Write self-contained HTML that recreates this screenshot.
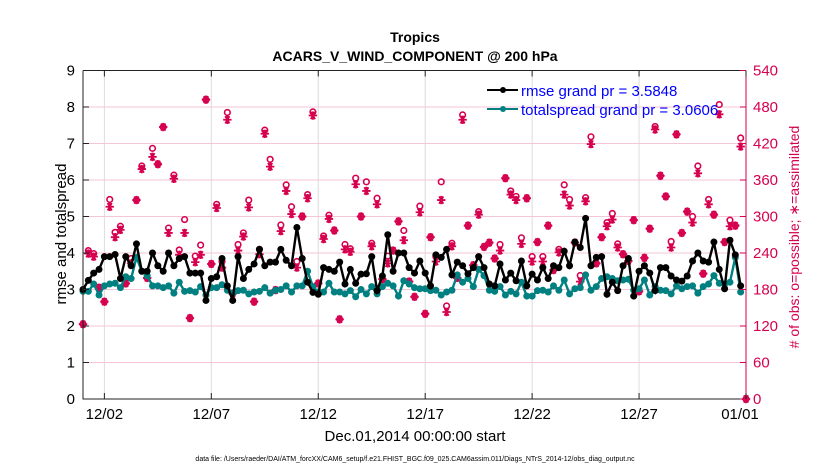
<!DOCTYPE html>
<html><head><meta charset="utf-8"><style>
body{margin:0;background:#fff;}
svg text{font-family:"Liberation Sans",Arial,sans-serif;}
</style></head><body>
<svg id="chart" width="830" height="470" xmlns="http://www.w3.org/2000/svg">
<text x="415" y="42" text-anchor="middle" font-size="14" font-weight="bold">Tropics</text>
<text x="415" y="61" text-anchor="middle" font-size="14" font-weight="bold">ACARS_V_WIND_COMPONENT @ 200 hPa</text>
<g id="grid"></g><g id="marks"></g><g id="axes"></g>
<text x="415" y="441" text-anchor="middle" font-size="15">Dec.01,2014 00:00:00 start</text>
<text x="415" y="461" text-anchor="middle" font-size="7">data file: /Users/raeder/DAI/ATM_forcXX/CAM6_setup/f.e21.FHIST_BGC.f09_025.CAM6assim.011/Diags_NTrS_2014-12/obs_diag_output.nc</text>
<text transform="translate(66,234) rotate(-90)" text-anchor="middle" font-size="15">rmse and totalspread</text>
<text transform="translate(799,237) rotate(-90)" text-anchor="middle" font-size="14" fill="#d6004f"># of obs: o=possible; ∗=assimilated</text>
<g>
<line x1="487" y1="90" x2="518" y2="90" stroke="#000" stroke-width="2"/><circle cx="503" cy="90" r="3" fill="#000"/>
<text x="521" y="96" font-size="15" fill="#0000ff">rmse grand pr = 3.5848</text>
<line x1="487" y1="109" x2="518" y2="109" stroke="#008080" stroke-width="2"/><circle cx="503" cy="109" r="3" fill="#008080"/>
<text x="521" y="115" font-size="15" fill="#0000ff">totalspread grand pr = 3.0606</text>
</g>
</svg>
<script>
const rmse=[3.0,3.25,3.45,3.55,3.9,3.9,3.96,3.3,3.9,3.65,4.25,3.5,3.5,4.0,3.65,3.5,4.0,3.65,3.85,3.9,3.45,3.45,3.45,2.7,3.3,3.35,3.85,3.1,2.7,3.9,3.3,3.55,3.7,4.1,3.65,3.75,3.75,4.1,3.8,3.65,4.7,3.85,3.2,2.92,2.87,3.6,3.55,3.5,3.75,3.15,3.55,3.17,3.42,3.43,3.9,2.97,3.37,4.5,3.5,4.0,4.0,3.6,3.45,3.78,3.45,3.1,3.95,3.88,4.1,3.4,3.75,3.65,3.43,3.6,3.9,3.6,3.15,3.1,3.7,3.26,3.45,3.24,3.78,3.1,3.42,3.26,3.6,3.3,3.65,3.6,4.05,3.65,4.3,4.15,4.95,3.65,3.88,3.9,2.87,3.2,2.97,3.65,3.85,2.82,3.5,3.65,3.45,2.97,3.6,3.6,3.37,3.26,3.23,3.37,3.78,4.0,3.78,3.75,4.3,3.55,3.02,4.35,3.95,3.1];
const spread=[2.95,2.95,3.15,2.85,3.1,3.15,3.17,3.05,3.35,3.3,3.88,3.5,3.38,3.1,3.1,3.05,3.1,2.9,3.2,2.95,2.97,2.93,3.08,2.85,3.05,3.05,3.13,2.98,2.9,2.97,2.98,2.88,2.93,2.95,3.05,2.9,2.98,3.0,3.1,2.93,3.1,3.1,3.5,3.08,2.93,2.93,3.17,2.93,2.93,2.88,2.97,2.8,3.0,2.88,3.08,2.88,3.08,3.17,3.1,2.82,3.24,3.15,3.05,3.02,3.02,2.97,2.98,2.85,2.93,2.98,3.4,3.2,3.3,3.08,3.55,3.38,2.98,2.95,3.08,2.85,2.95,2.88,3.2,2.82,2.82,2.97,2.98,2.93,3.1,2.98,3.26,2.88,3.02,3.05,3.4,2.98,3.08,3.3,3.35,3.3,3.24,3.26,3.28,2.98,3.02,3.26,2.85,3.08,2.98,2.97,2.88,3.1,3.02,3.08,3.1,2.9,3.08,3.15,3.38,3.17,3.15,3.2,3.88,2.93];
const nAssim=[123,239,234,183,160,316,266,278,190,223,327,378,199,398,386,447,273,362,237,273,133,225,237,492,222,314,216,459,173,244,267,315,160,238,436,382,179,276,342,304,216,300,330,466,190,263,296,277,131,246,242,353,300,342,251,320,197,223,244,292,261,193,168,307,140,266,226,327,143,251,199,459,285,220,303,250,257,231,244,363,336,327,255,330,226,258,226,285,212,241,336,318,257,193,325,419,223,266,284,295,249,238,227,294,177,232,280,443,367,333,249,435,273,308,290,371,206,320,303,468,258,284,285,415,0];
const possExtra=[0,5,5,0,0,12,8,6,0,8,0,5,0,14,0,0,8,6,8,22,0,10,16,0,0,6,10,12,0,10,6,12,0,8,6,12,0,10,10,12,10,0,6,6,0,5,6,0,0,8,5,10,0,15,5,10,0,12,0,0,16,0,0,10,0,0,8,30,10,5,0,8,0,0,5,0,0,0,10,0,6,6,10,0,8,0,8,0,0,5,16,10,0,10,6,12,0,0,6,10,6,0,0,0,0,0,0,5,0,0,10,0,0,0,10,12,0,8,0,16,0,10,0,14,0];
const yTicks=[0,1,2,3,4,5,6,7,8,9];
const rTicks=[0,60,120,180,240,300,360,420,480,540];
const xTickDays=[1,6,11,16,21,26,31];
const xTickLabels=["12/02","12/07","12/12","12/17","12/22","12/27","01/01"];

const NS="http://www.w3.org/2000/svg";
const X0=83,X1=746,Y0=399,Y1=70.5;
const xs=d=>X0+(d/31)*(X1-X0);
const ys=v=>Y0-(v/9)*(Y0-Y1);
const yr=c=>Y0-(c/540)*(Y0-Y1);
function mk(tag,attrs,parent){const e=document.createElementNS(NS,tag);for(const k in attrs)e.setAttribute(k,attrs[k]);parent.appendChild(e);return e;}
const grid=document.getElementById('grid'),marks=document.getElementById('marks'),axes=document.getElementById('axes');
const pink="#d6004f";
xTickDays.forEach(d=>{const l=mk('line',{x1:xs(d),x2:xs(d),y1:Y1,y2:Y0,stroke:'#dcdcdc','stroke-width':1},grid);

});
rTicks.forEach(c=>{const l=mk('line',{x1:X0,x2:X1,y1:yr(c),y2:yr(c),stroke:'#f5c6d6','stroke-width':1},grid);

});
nAssim.forEach((c,i)=>{const x=xs(i*0.25);
 const p=c+possExtra[i];
 const o=mk('circle',{cx:x,cy:yr(p),r:2.8,fill:'#fff',stroke:pink,'stroke-width':1.6},marks);
 
 
 const y=yr(c),r=4.2;
 const d=`M${x-r},${y}H${x+r}M${x-r*0.5},${y-r*0.87}L${x+r*0.5},${y+r*0.87}M${x-r*0.5},${y+r*0.87}L${x+r*0.5},${y-r*0.87}M${x},${y-r}V${y+r}`;
 const a=mk('path',{d:d,stroke:pink,'stroke-width':1.8,fill:'none'},marks);
 
 });
function series(arr,color,name){
 const pts=arr.map((v,i)=>xs(i*0.25)+','+ys(v)).join(' ');
 const pl=mk('polyline',{points:pts,fill:'none',stroke:color,'stroke-width':2.4},marks);
 
 
 arr.forEach((v,i)=>{const c=mk('circle',{cx:xs(i*0.25),cy:ys(v),r:3.5,fill:color},marks);
 
 });
}
series(spread,'#008080','totalspread');
series(rmse,'#000','rmse');
const ax=mk('path',{d:`M${X0},${Y1}V${Y0}H${X1}M${X0},${Y1}H${X1}`,stroke:'#222',fill:'none','stroke-width':1},axes);


const ra=mk('line',{x1:X1,x2:X1,y1:Y1,y2:Y0,stroke:pink,'stroke-width':1},axes);


yTicks.forEach(v=>{mk('line',{x1:X0,x2:X0+6,y1:ys(v),y2:ys(v),stroke:'#222'},axes);
 const t=mk('text',{x:X0-8,y:ys(v)+5,'text-anchor':'end','font-size':15},axes);t.textContent=v;
 
 });
rTicks.forEach(c=>{mk('line',{x1:X1-6,x2:X1,y1:yr(c),y2:yr(c),stroke:pink},axes);
 const t=mk('text',{x:X1+7,y:yr(c)+5,'font-size':15,fill:pink},axes);t.textContent=c;
 
 });
xTickDays.forEach((d,i)=>{mk('line',{x1:xs(d),x2:xs(d),y1:Y0,y2:Y0-6,stroke:'#222'},axes);
 mk('line',{x1:xs(d),x2:xs(d),y1:Y1,y2:Y1+6,stroke:'#222'},axes);
 const t=mk('text',{x:xs(d)-(i==6?6:0),y:Y0+20,'text-anchor':'middle','font-size':15},axes);t.textContent=xTickLabels[i];
 
 });
</script>
</body></html>
